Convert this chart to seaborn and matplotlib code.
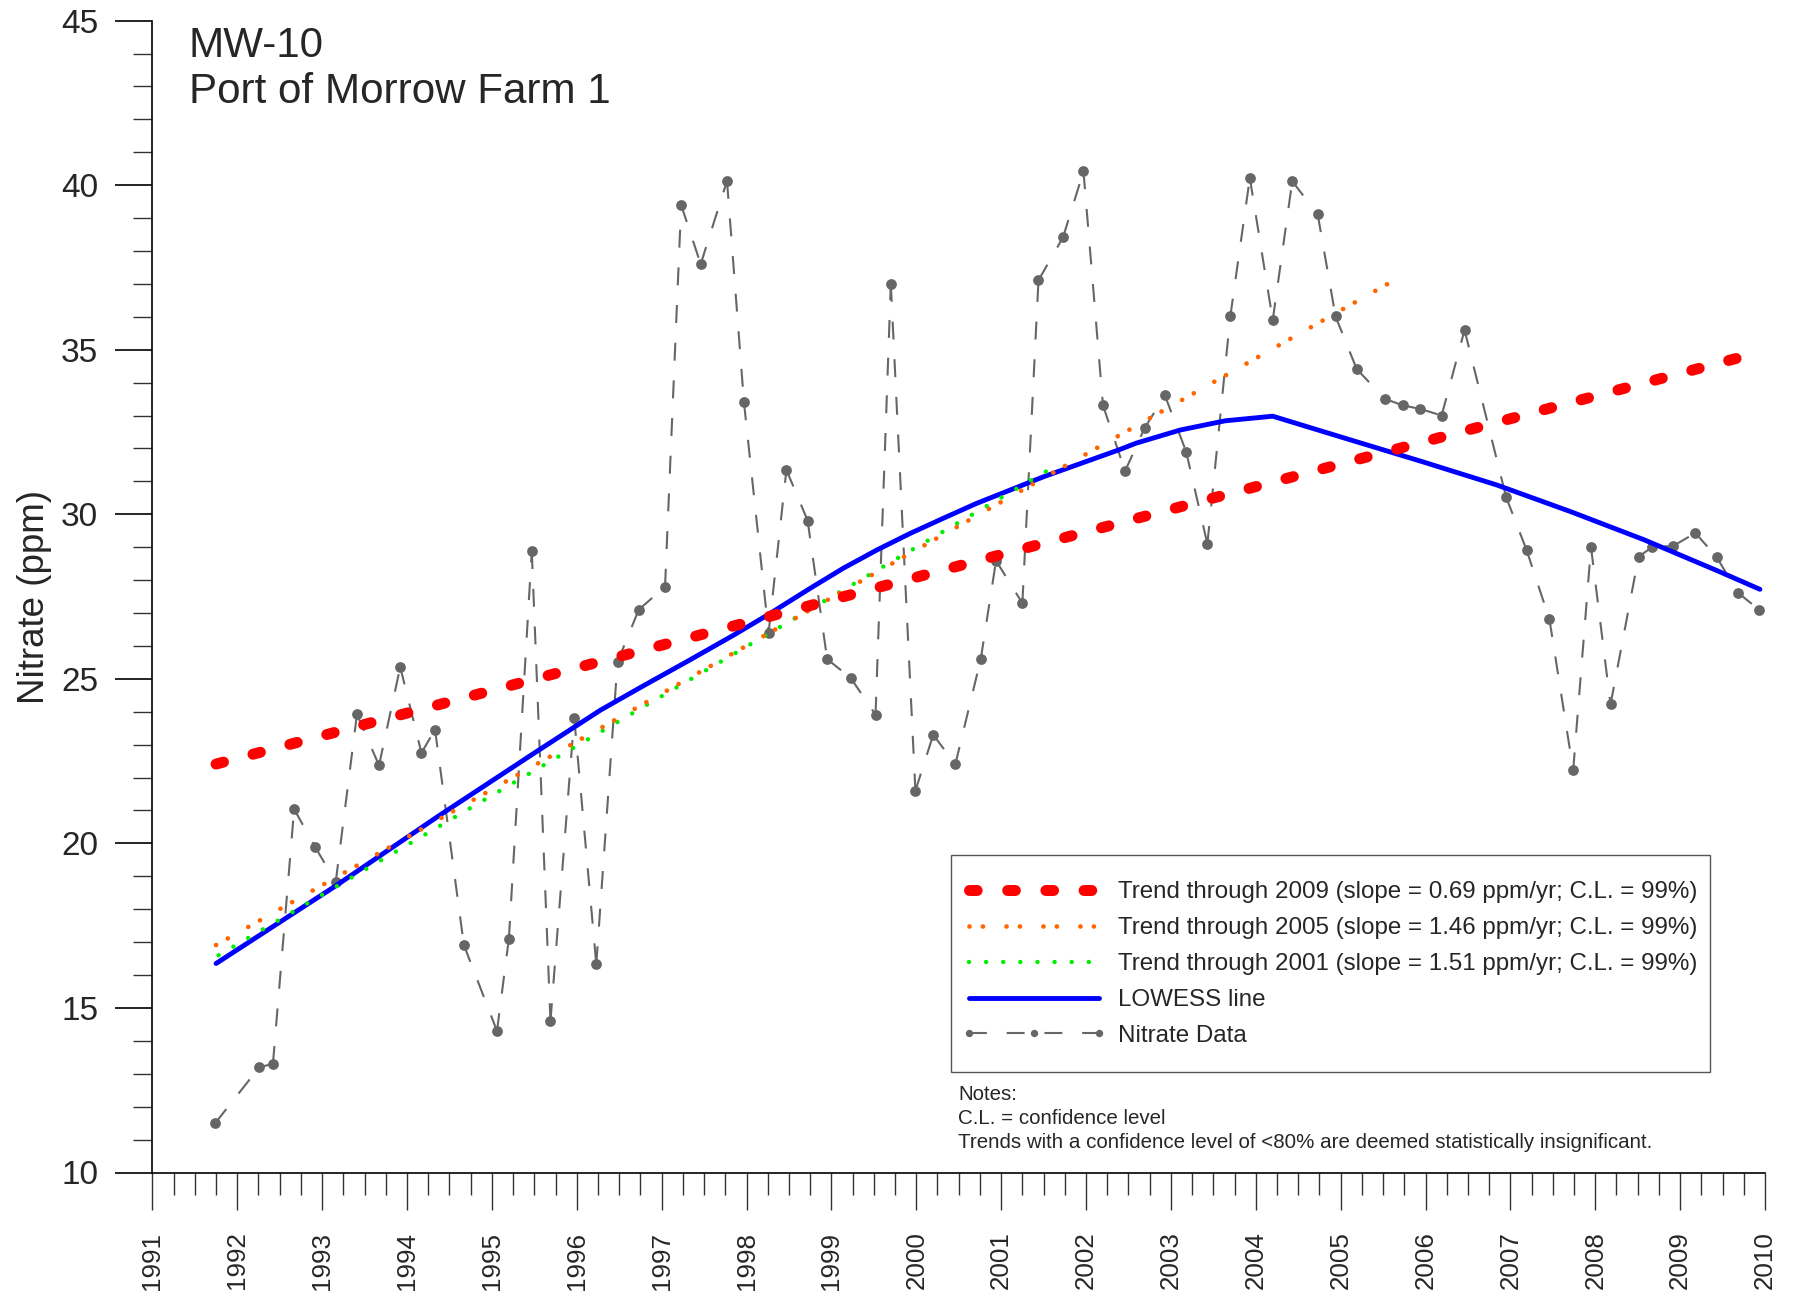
import matplotlib
matplotlib.use("Agg")
import matplotlib.pyplot as plt
import seaborn as sns
import pandas as pd
from matplotlib.ticker import MultipleLocator
from matplotlib.lines import Line2D
from matplotlib.patches import Rectangle
from matplotlib import font_manager

# ---------------- data ----------------
years = [1991.74, 1992.26, 1992.42, 1992.67, 1992.92, 1993.16, 1993.41, 1993.67,
         1993.92, 1994.17, 1994.33, 1994.67, 1995.06, 1995.20, 1995.47, 1995.69,
         1995.97, 1996.23, 1996.48, 1996.73, 1997.04, 1997.23, 1997.46, 1997.77,
         1997.97, 1998.26, 1998.47, 1998.72, 1998.95, 1999.23, 1999.52, 1999.70,
         1999.99, 2000.20, 2000.46, 2000.76, 2000.94, 2001.25, 2001.44, 2001.73,
         2001.97, 2002.20, 2002.46, 2002.69, 2002.93, 2003.18, 2003.43, 2003.70,
         2003.93, 2004.20, 2004.43, 2004.73, 2004.94, 2005.19, 2005.52, 2005.73,
         2005.94, 2006.19, 2006.46, 2006.95, 2007.19, 2007.46, 2007.74, 2007.95,
         2008.18, 2008.51, 2008.67, 2008.92, 2009.18, 2009.43, 2009.68, 2009.93]
nitrate = [11.5, 13.2, 13.3, 21.04, 19.88, 18.83, 23.92, 22.37,
           25.36, 22.75, 23.46, 16.91, 14.3, 17.1, 28.88, 14.6,
           23.81, 16.33, 25.51, 27.1, 27.8, 39.4, 37.6, 40.13,
           33.4, 26.4, 31.35, 29.81, 25.6, 25.02, 23.91, 37.0,
           21.6, 23.3, 22.4, 25.6, 28.59, 27.3, 37.11, 38.42,
           40.42, 33.31, 31.31, 32.62, 33.61, 31.9, 29.1, 36.01,
           40.22, 35.9, 40.12, 39.11, 36.01, 34.41, 33.51, 33.31,
           33.2, 33.0, 35.6, 30.52, 28.92, 26.81, 22.22, 29.0,
           24.22, 28.71, 29.0, 29.04, 29.43, 28.7, 27.62, 27.1]

lowess_years = [1991.75, 1993.16, 1994.37, 1995.52, 1996.28, 1996.80, 1997.33,
                1997.85, 1998.28, 1998.75, 1999.14, 1999.54, 1999.93, 2000.32,
                2000.71, 2001.11, 2001.50, 2001.89, 2002.38, 2002.59, 2003.11,
                2003.64, 2004.20, 2005.09, 2005.96, 2006.84, 2007.71, 2008.58,
                2009.46, 2009.94]
lowess_values = [16.35, 18.71, 20.83, 22.78, 24.05, 24.81, 25.57,
                 26.33, 26.99, 27.75, 28.36, 28.92, 29.42, 29.88,
                 30.33, 30.74, 31.14, 31.50, 31.95, 32.16, 32.56,
                 32.84, 32.98, 32.28, 31.60, 30.89, 30.08, 29.22,
                 28.26, 27.72]

trend_labels = ["Trend through 2009 (slope = 0.69 ppm/yr; C.L. = 99%)",
                "Trend through 2005 (slope = 1.46 ppm/yr; C.L. = 99%)",
                "Trend through 2001 (slope = 1.51 ppm/yr; C.L. = 99%)"]
trend_x = [[1991.75, 2009.80], [1991.75, 2005.76], [1991.78, 2001.64]]
trend_y = [[22.41, 34.83], [16.91, 37.30], [16.60, 31.47]]
trend_colors = ["#ff0000", "#ff6600", "#00ee00"]

x_ticks = list(range(1991, 2011))
y_ticks = [10, 15, 20, 25, 30, 35, 40, 45]

title_lines = ["MW-10", "Port of Morrow Farm 1"]
notes_lines = ["Notes:", "C.L. = confidence level",
               "Trends with a confidence level of <80% are deemed statistically insignificant."]

# ---------------- style ----------------
sns.set_style("ticks")
plt.rcParams["font.family"] = ["Liberation Sans", "DejaVu Sans"]
names = {f.name for f in font_manager.fontManager.ttflist}
narrow = "Liberation Sans"
for cand in ["Liberation Sans Narrow", "Arial Narrow"]:
    if cand in names:
        narrow = cand
        break

W, H, DPI = 1797, 1296, 100
PX = 72.0 / DPI  # points per pixel
fig = plt.figure(figsize=(W / DPI, H / DPI), dpi=DPI)
ax = fig.add_axes([152.4 / W, 1 - 1172.5 / H, (1765 - 152.4) / W, (1172.5 - 20.6) / H])

GRAY = "#666666"
data_df = pd.DataFrame({"year": years, "nitrate": nitrate})
seg_rows = []
for i in range(len(years) - 1):
    seg_rows.append((i, years[i], nitrate[i]))
    seg_rows.append((i, years[i + 1], nitrate[i + 1]))
seg_df = pd.DataFrame(seg_rows, columns=["seg", "year", "nitrate"])
lowess_df = pd.DataFrame({"year": lowess_years, "nitrate": lowess_values})

data_ls = (0, (8.6, 9.5))
# nitrate data: each segment drawn on its own so that its dash pattern starts at a point
sns.lineplot(data=seg_df, x="year", y="nitrate", units="seg", ax=ax, color=GRAY,
             linewidth=1.5, linestyle=data_ls, estimator=None, sort=False,
             zorder=2, legend=False)
sns.scatterplot(data=data_df, x="year", y="nitrate", ax=ax, color=GRAY, s=60,
                linewidth=0, zorder=2.5, legend=False)

# LOWESS
sns.lineplot(data=lowess_df, x="year", y="nitrate", ax=ax, color="#0000ff",
             linewidth=3.5, estimator=None, sort=False, zorder=3, legend=False)
lowess_line = ax.lines[-1]
lowess_line.set_solid_capstyle("round")
lowess_line.set_solid_joinstyle("round")

styles = [dict(linewidth=7.9, linestyle=(0, (0.7, 2.78))),
          dict(linewidth=3.4, linestyle=(0, (0.01, 2.83, 0.01, 4.98))),
          dict(linewidth=3.2, linestyle=(0, (0.01, 3.84)))]
trend_lines = [None, None, None]
for i in [2, 1, 0]:
    tdf = pd.DataFrame({"year": trend_x[i], "nitrate": trend_y[i]})
    sns.lineplot(data=tdf, x="year", y="nitrate", ax=ax, color=trend_colors[i],
                 estimator=None, sort=False, zorder=4 + (2 - i), legend=False,
                 **styles[i])
    ln = ax.lines[-1]
    ln.set_dash_capstyle("round")
    trend_lines[i] = ln

ax.set_xlim(1991, 2010)
ax.set_ylim(10, 45)
ax.set_xticks(x_ticks)
ax.set_xticklabels([str(t) for t in x_ticks])
ax.xaxis.set_minor_locator(MultipleLocator(0.25))
ax.set_yticks(y_ticks)
ax.set_yticklabels([str(t) for t in y_ticks])
ax.yaxis.set_minor_locator(MultipleLocator(1))

for s in ["top", "right"]:
    ax.spines[s].set_visible(False)
for s in ["left", "bottom"]:
    ax.spines[s].set_linewidth(1.2)
    ax.spines[s].set_color("black")

ax.tick_params(axis="y", which="major", length=27, width=1.2, direction="out",
               labelsize=24, pad=12, color="black")
ax.tick_params(axis="y", which="minor", length=13.5, width=1.0, direction="out", color="#333333")
ax.tick_params(axis="x", which="major", length=26.5, width=1.0, direction="out",
               labelsize=18.7, pad=16, labelrotation=90, color="#333333")
ax.tick_params(axis="x", which="minor", length=15.5, width=1.0, direction="out", color="#333333")

ax.set_xlabel("")
ax.set_ylabel("Nitrate (ppm)", fontsize=26.5, labelpad=6.4)

fig.text(189 / W, 1 - 57 / H, title_lines[0], fontsize=30.3, va="baseline", ha="left")
fig.text(189 / W, 1 - 103 / H, title_lines[1], fontsize=30.3, va="baseline", ha="left")

# ---------------- legend ----------------
renderer = fig.canvas.get_renderer()


def fit_size(text, family, target_px, base=20.0):
    t = fig.text(0, 0, text, fontsize=base, family=family)
    w = t.get_window_extent(renderer=renderer).width
    t.remove()
    return base * target_px / w


leg_fs = fit_size(trend_labels[0], narrow, 579.0)
fs_px = leg_fs / PX
row_pitch = 36.9
data_proxy = Line2D([], [], color=GRAY, linewidth=1.5, linestyle=data_ls,
                    marker="o", markersize=5.3, markeredgewidth=0)
handles = trend_lines + [lowess_line, data_proxy]
labels = trend_labels + ["LOWESS line", "Nitrate Data"]
row_h = 0.957 * fs_px
leg = ax.legend(handles, labels, loc="upper left",
                bbox_to_anchor=(962 / W, 1 - (893 - row_h / 2) / H),
                bbox_transform=fig.transFigure, borderaxespad=0, borderpad=0,
                prop={"family": narrow, "size": leg_fs},
                handlelength=144 / fs_px, handletextpad=12 / fs_px,
                labelspacing=(row_pitch - row_h) / fs_px, handleheight=0.7,
                numpoints=3, frameon=False)
leg.set_zorder(10)
frame = Rectangle((951 / W, 1 - 1072 / H), (1710 - 951) / W, (1072 - 855) / H,
                  transform=fig.transFigure, facecolor="white", edgecolor="#555555",
                  linewidth=1.0, zorder=9)
fig.add_artist(frame)
fig.add_artist(leg)

notes_fs = fit_size(notes_lines[2], narrow, 696.0)
for t, yb in zip(notes_lines, [1100, 1124, 1148]):
    fig.text(958 / W, 1 - yb / H, t, fontsize=notes_fs, family=narrow,
             va="baseline", ha="left")

fig.savefig("out.png", dpi=DPI)
